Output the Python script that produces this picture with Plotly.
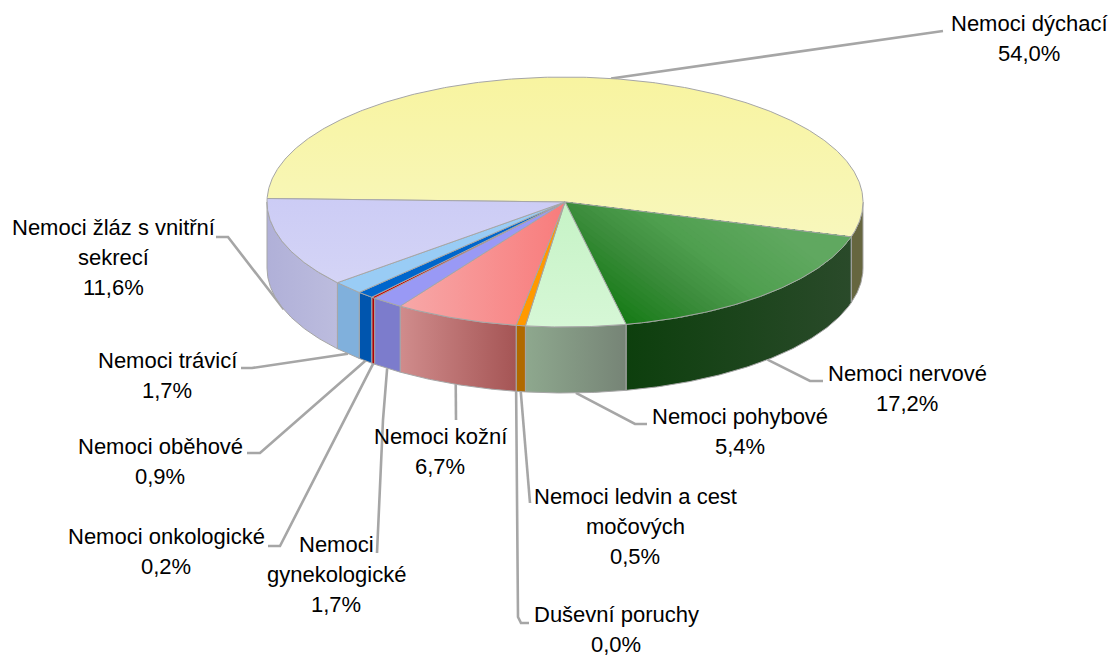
import math
import plotly.graph_objects as go

# ---- data ----
categories = ["Nemoci dýchací", "Nemoci nervové", "Nemoci pohybové", "Nemoci ledvin a cest<br>močových",
              "Duševní poruchy", "Nemoci kožní", "Nemoci<br>gynekologické", "Nemoci onkologické",
              "Nemoci oběhové", "Nemoci trávicí", "Nemoci žláz s vnitřní<br>sekrecí"]
values = [54.0, 17.2, 5.4, 0.5, 0.0, 6.7, 1.7, 0.2, 0.9, 1.7, 11.6]

# ---- styling ----
top_colors = [("vertical", "#F8F4A0", "#F8F7BC"), None, ("vertical", "#C6F3C6", "#D6F7D6"),
              ("flat", "#FF9900", "#FF9900"), ("flat", "#FFFFFF", "#FFFFFF"),
              ("horizontal", "#F7A8A8", "#F87C7C"), ("flat", "#9999F5", "#9999F5"),
              ("flat", "#CC0000", "#CC0000"), ("flat", "#0066CC", "#0066CC"),
              ("flat", "#99CCF5", "#99CCF5"), ("vertical", "#CCCCF5", "#D4D4F6")]
side_colors = [("#66663F", "#66663F"), ("#0D3F0D", "#2A4A2A"), ("#8EA88E", "#768476"),
               ("#B06A00", "#B06A00"), ("#AAAAAA", "#AAAAAA"), ("#D08C8C", "#A55555"),
               ("#7C7CCC", "#7C7CCC"), ("#B00000", "#B00000"), ("#0055AE", "#0055AE"),
               ("#80B0DC", "#80B0DC"), ("#B0B0D8", "#BCBCDE")]
green_stops = [(0, "#177B17"), (60, "#3D8D3D"), (100, "#4F9F4F"), (165, "#60A860"), (260, "#60A860")]
label_xy = [(1029, 23), (907, 373), (740, 416), (635, 496), (616, 614), (440, 436), (336, 544),
            (166, 536), (160, 446), (167, 360), (113, 227)]
elbows = [[(925, 33), (943, 31)], [(810, 381), (823, 381)], [(635, 424), (647, 424)], [(530, 503)],
          [(518, 617), (521, 623), (529, 623)], [(456, 420)], [(383, 420), (377, 553)],
          [(280, 546), (268, 546)], [(260, 453), (247, 453)], [(252, 368), (241, 368)],
          [(228, 237), (216, 237)]]
CX, CY, RX, RY, H = 565, 202, 298, 125, 66
START = -88.4
GRAY = "#A6A6A6"
FONT = "Liberation Sans, Arial, sans-serif"
LINE_STEP = 30.3


def rim(a, dy=0.0):
    r = math.radians(a)
    return CX + RX * math.sin(r), CY - RY * math.cos(r) + dy


def arc(a, b, dy=0.0):
    n = max(2, int(abs(b - a) * 2) + 1)
    return [rim(a + (b - a) * i / (n - 1), dy) for i in range(n)]


def clip(poly, nx, ny, t):
    out = []
    for i, p in enumerate(poly):
        q = poly[(i + 1) % len(poly)]
        dp = p[0] * nx + p[1] * ny - t
        dq = q[0] * nx + q[1] * ny - t
        if dp >= 0:
            out.append(p)
        if dp * dq < 0:
            s = dp / (dp - dq)
            out.append((p[0] + s * (q[0] - p[0]), p[1] + s * (q[1] - p[1])))
    return out


def mix(c1, c2, s):
    a = [int(c1[i:i + 2], 16) for i in (1, 3, 5)]
    b = [int(c2[i:i + 2], 16) for i in (1, 3, 5)]
    return "rgb(%d,%d,%d)" % tuple(round(a[i] + (b[i] - a[i]) * s) for i in range(3))


def stop_color(stops, t):
    for (t0, c0), (t1, c1) in zip(stops, stops[1:]):
        if t <= t1:
            return mix(c0, c1, max(0, (t - t0) / (t1 - t0)))
    return stops[-1][1]


def poly_trace(pts, line=True, **kw):
    xs = [p[0] for p in pts] + [pts[0][0]]
    ys = [p[1] for p in pts] + [pts[0][1]]
    return go.Scatter(x=xs, y=ys, mode="lines", fill="toself", hoverinfo="skip", showlegend=False,
                      line=dict(color=GRAY if line else "rgba(0,0,0,0)", width=1 if line else 0), **kw)


fig = go.Figure()
total = sum(values)
angles = [START]
for v in values:
    angles.append(angles[-1] + v / total * 360)
mids = [(a + b) / 2 for a, b in zip(angles, angles[1:])]

# leader lines
for i, m in enumerate(mids):
    start = rim(m) if i == 0 else rim(m, H)
    pts = [start] + elbows[i]
    fig.add_trace(go.Scatter(x=[p[0] for p in pts], y=[p[1] for p in pts], mode="lines", hoverinfo="skip",
                             showlegend=False, line=dict(color=GRAY, width=2.6)))

# side walls, only the front half of the disc shows
for i in range(len(values)):
    if values[i] == 0:
        continue
    a, b = max(angles[i], 90), min(angles[i + 1], 270)
    if b <= a:
        continue
    pts = arc(a, b) + arc(b, a, H)
    c1, c2 = side_colors[i]
    xs = [p[0] for p in pts]
    grad = dict(type="horizontal", start=min(xs), stop=max(xs), colorscale=[[0, c1], [1, c2]])
    fig.add_trace(poly_trace(pts, fillgradient=grad))

# top faces
for i in range(len(values)):
    if values[i] == 0:
        continue
    pts = [(CX, CY)] + arc(angles[i], angles[i + 1])
    style = top_colors[i]
    if style is None:
        nx, ny = 0.6, -0.8
        origin = rim(angles[i + 1])
        base = origin[0] * nx + origin[1] * ny
        t = 0
        fig.add_trace(poly_trace(pts, line=False, fillcolor=stop_color(green_stops, 0)))
        while t < 190:
            part = clip(pts, nx, ny, base + t)
            if len(part) > 2:
                fig.add_trace(poly_trace(part, line=False, fillcolor=stop_color(green_stops, t)))
            t += 5
        fig.add_trace(poly_trace(pts, fillcolor="rgba(0,0,0,0)"))
        continue
    kind, c1, c2 = style
    if kind == "flat":
        fig.add_trace(poly_trace(pts, fillcolor=c1))
    else:
        key = 0 if kind == "horizontal" else 1
        vals = [p[key] for p in pts]
        grad = dict(type=kind, start=min(vals), stop=max(vals), colorscale=[[0, c1], [1, c2]])
        fig.add_trace(poly_trace(pts, fillgradient=grad))

annotations = []
for name, v, (x, y) in zip(categories, values, label_xy):
    lines = name.split("<br>") + [f"{v:.1f}".replace(".", ",") + "%"]
    for k, line in enumerate(lines):
        annotations.append(dict(x=x, y=y + k * LINE_STEP, xref="x", yref="y", showarrow=False, xanchor="center",
                                yanchor="middle", align="center", text=line,
                                font=dict(family=FONT, size=22, color="#000000")))

fig.update_layout(width=1110, height=656, margin=dict(l=0, r=0, t=0, b=0), paper_bgcolor="white",
                  plot_bgcolor="white", showlegend=False, annotations=annotations,
                  xaxis=dict(range=[0, 1110], visible=False, fixedrange=True),
                  yaxis=dict(range=[656, 0], visible=False, fixedrange=True))
fig.write_html("out.html", post_script="document.body.style.margin='0';document.body.style.overflow='hidden';",
               config=dict(displayModeBar=False))
